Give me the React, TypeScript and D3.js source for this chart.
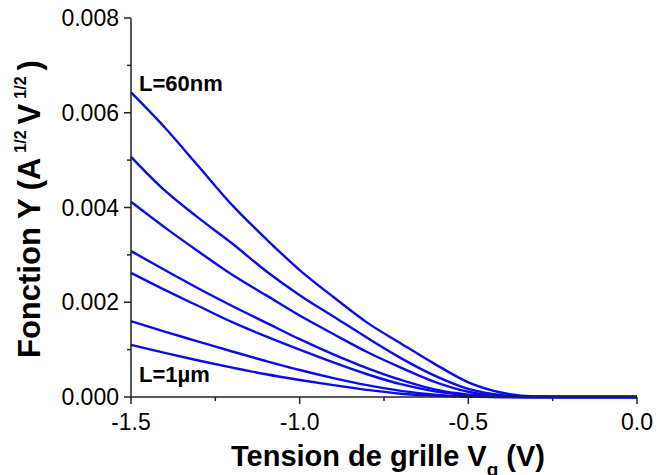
import React from 'react';
import * as d3 from 'd3';

// gate voltage grid (V)
const voltages = [-1.5, -1.4, -1.3, -1.2, -1.1, -1.0, -0.9, -0.8, -0.7, -0.6, -0.5, -0.4, -0.3, -0.2, -0.1, 0.0];

// Y function for each gate length, from L=60nm (top) down to L=1µm (bottom)
const yL60nm = [0.00643, 0.00569, 0.00487, 0.00405, 0.00334, 0.00268, 0.00211, 0.00157, 0.00113, 0.0007, 0.00031, 0.00009, 0.00001, 0, 0, 0];
const yL2 = [0.00507, 0.00436, 0.00378, 0.00324, 0.00266, 0.00215, 0.0017, 0.00125, 0.00082, 0.00045, 0.00017, 0.00004, 0, 0, 0, 0];
const yL3 = [0.00412, 0.00358, 0.00307, 0.00258, 0.00215, 0.00172, 0.00133, 0.00095, 0.00062, 0.00032, 0.00011, 0.00002, 0, 0, 0, 0];
const yL4 = [0.00308, 0.00268, 0.00229, 0.00192, 0.00157, 0.00122, 0.0009, 0.00061, 0.00036, 0.00016, 0.00005, 0.00001, 0, 0, 0, 0];
const yL5 = [0.00262, 0.00226, 0.00192, 0.00158, 0.00128, 0.001, 0.00073, 0.00048, 0.00027, 0.00012, 0.00004, 0.00001, 0, 0, 0, 0];
const yL6 = [0.0016, 0.00138, 0.00117, 0.00096, 0.00076, 0.00057, 0.0004, 0.00025, 0.00013, 0.00005, 0.00001, 0, 0, 0, 0, 0];
const yL1um = [0.0011, 0.00093, 0.00077, 0.00062, 0.00048, 0.00036, 0.00025, 0.00015, 0.00007, 0.00003, 0.00001, 0, 0, 0, 0, 0];

const series = [yL60nm, yL2, yL3, yL4, yL5, yL6, yL1um];

const xTicks = [-1.5, -1.0, -0.5, 0.0];
const xMinor = [-1.25, -0.75, -0.25];
const yTicks = [0, 0.002, 0.004, 0.006, 0.008];
const yMinor = [0.001, 0.003, 0.005, 0.007];

const W = 661;
const H = 475;
const font = 'Arial, "Liberation Sans", sans-serif';

export default function App() {
  const x = d3.scaleLinear().domain([-1.5, 0]).range([131, 637]);
  const y = d3.scaleLinear().domain([0, 0.008]).range([397, 18]);

  const line = d3
    .line<number>()
    .x((_, i) => x(voltages[i]))
    .y((d) => y(d))
    .curve(d3.curveMonotoneX);

  const axisColor = '#222';

  return (
    <svg
      width={W}
      height={H}
      style={{ position: 'absolute', left: 0, top: 0, background: '#fff' }}
      fontFamily={font}
    >
      {/* curves */}
      <g fill="none" stroke="#0a0af0" strokeWidth={2.4} strokeLinejoin="round">
        {series.map((s, i) => (
          <path key={i} d={line(s) || ''} />
        ))}
      </g>

      {/* axes */}
      <g stroke={axisColor} strokeWidth={1.5}>
        <line x1={x(-1.5)} x2={x(-1.5)} y1={y(0)} y2={y(0.008)} />
        <line x1={x(-1.5)} x2={x(0)} y1={y(0)} y2={y(0)} />
        {xTicks.map((t) => (
          <line key={t} x1={x(t)} x2={x(t)} y1={y(0)} y2={y(0) + 7} />
        ))}
        {xMinor.map((t) => (
          <line key={t} x1={x(t)} x2={x(t)} y1={y(0)} y2={y(0) + 4} />
        ))}
        {yTicks.map((t) => (
          <line key={t} x1={x(-1.5) - 7} x2={x(-1.5)} y1={y(t)} y2={y(t)} />
        ))}
        {yMinor.map((t) => (
          <line key={t} x1={x(-1.5) - 4} x2={x(-1.5)} y1={y(t)} y2={y(t)} />
        ))}
      </g>

      {/* tick labels */}
      <g fontSize={23} fill="#000">
        {xTicks.map((t) => (
          <text key={t} x={x(t)} y={y(0) + 33} textAnchor="middle">
            {d3.format('.1f')(t).replace('−', '-')}
          </text>
        ))}
        {yTicks.map((t) => (
          <text key={t} x={x(-1.5) - 12} y={y(t) + 8} textAnchor="end">
            {d3.format('.3f')(t)}
          </text>
        ))}
      </g>

      {/* axis titles */}
      <text x={231} y={466} fontSize={29} fontWeight="bold">
        Tension de grille V
        <tspan fontSize={19} dy={10}>g</tspan>
        <tspan dy={-10}> (V)</tspan>
      </text>
      <text
        transform={`translate(40,358) rotate(-90)`}
        textAnchor="start"
        fontSize={31}
        fontWeight="bold"
      >
        Fonction Y (A
        <tspan fontSize={16} dx={5} dy={-14}>1/2</tspan>
        <tspan dx={6} dy={14}>V</tspan>
        <tspan fontSize={16} dx={5} dy={-14}>1/2</tspan>
        <tspan dx={6} dy={14}>)</tspan>
      </text>

      {/* curve labels */}
      <text x={139} y={91} fontSize={22} fontWeight="bold">L=60nm</text>
      <text x={139} y={382} fontSize={22} fontWeight="bold">L=1µm</text>
    </svg>
  );
}
